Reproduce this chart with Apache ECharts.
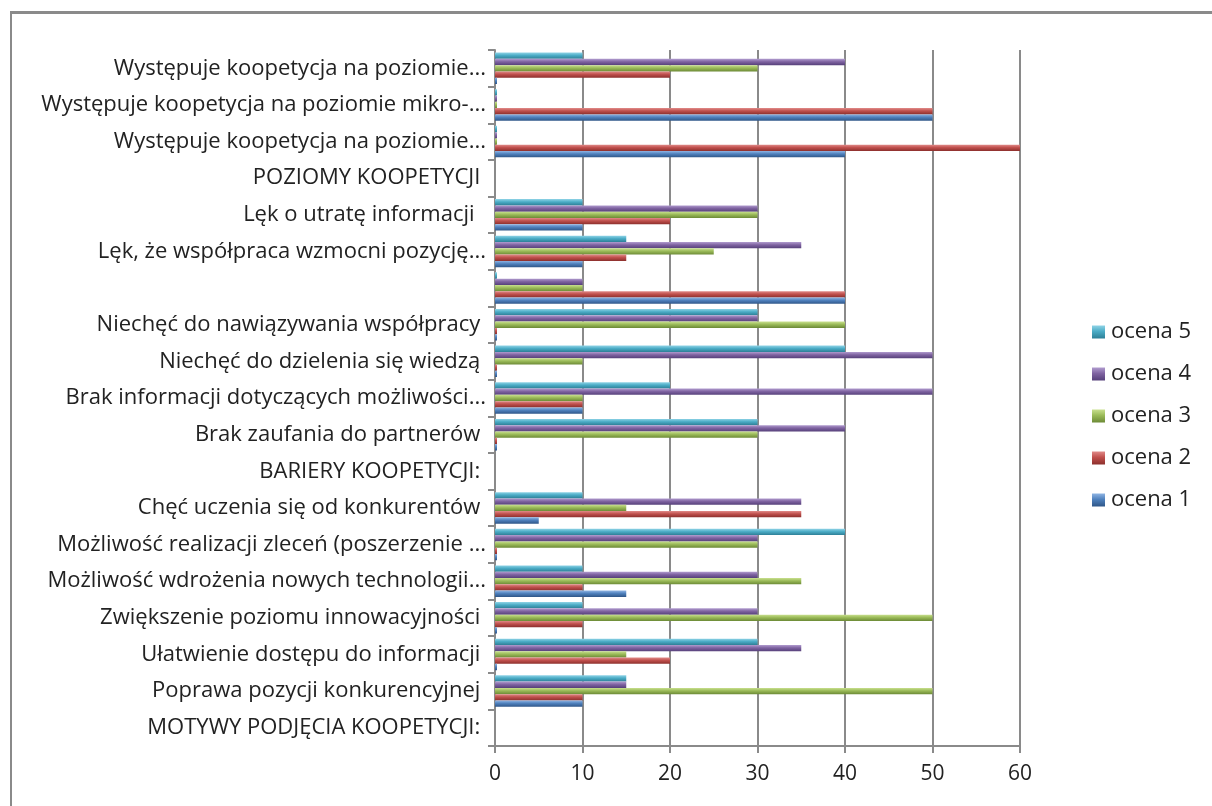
<!DOCTYPE html>
<html>
<head>
<meta charset="utf-8">
<script src="https://cdn.jsdelivr.net/npm/echarts@6/dist/echarts.min.js"></script>
<style>
  html, body { margin: 0; padding: 0; background: #fff; }
  #frame { position: absolute; left: 10px; top: 11px; width: 1220px; height: 820px; border-left: 2px solid #8a8a8a; border-top: 3px solid #8a8a8a; }
  #chart { position: absolute; left: 0; top: 0; width: 1212px; height: 806px; }
</style>
</head>
<body>
<div id="frame"></div>
<div id="chart"></div>
<script>
// kategorie od dołu do góry
var categories = [
  'MOTYWY PODJĘCIA KOOPETYCJI: ',
  'Poprawa pozycji konkurencyjnej ',
  'Ułatwienie dostępu do informacji ',
  'Zwiększenie poziomu innowacyjności ',
  'Możliwość wdrożenia nowych technologii...',
  'Możliwość realizacji zleceń (poszerzenie ...',
  'Chęć uczenia się od konkurentów ',
  'BARIERY KOOPETYCJI: ',
  'Brak zaufania do partnerów ',
  'Brak informacji dotyczących możliwości...',
  'Niechęć do dzielenia się wiedzą ',
  'Niechęć do nawiązywania współpracy ',
  '',
  'Lęk, że współpraca wzmocni pozycję...',
  'Lęk o utratę informacji  ',
  'POZIOMY KOOPETYCJI ',
  'Występuje koopetycja na poziomie...',
  'Występuje koopetycja na poziomie mikro-...',
  'Występuje koopetycja na poziomie...'
];
var seriesNames = ['ocena 1', 'ocena 2', 'ocena 3', 'ocena 4', 'ocena 5'];
var ocena1 = [null, 10, 0, 0, 15, 0, 5, null, 0, 10, 0, 0, 40, 10, 10, null, 40, 50, 0];
var ocena2 = [null, 10, 20, 10, 10, 0, 35, null, 0, 10, 0, 0, 40, 15, 20, null, 60, 50, 20];
var ocena3 = [null, 50, 15, 50, 35, 30, 15, null, 30, 10, 10, 40, 10, 25, 30, null, 0, 0, 30];
var ocena4 = [null, 15, 35, 30, 30, 30, 35, null, 40, 50, 50, 30, 10, 35, 30, null, 0, 0, 40];
var ocena5 = [null, 15, 30, 10, 10, 40, 10, null, 30, 20, 40, 30, 0, 15, 10, null, 0, 0, 10];
var xTicks = [0, 10, 20, 30, 40, 50, 60];

var colors = ['#4F81BD', '#C0504D', '#9BBB59', '#8064A2', '#4BACC6'];
var lights = ['#8fb4e3', '#e08a88', '#c9e08f', '#b19ccf', '#8fd3e6'];
var darks = ['#2f5688', '#8c2f2c', '#6c8a36', '#56407a', '#2d7f96'];
var values = [ocena1, ocena2, ocena3, ocena4, ocena5];

var chart = echarts.init(document.getElementById('chart'));

var series = [];
for (var i = 4; i >= 0; i--) {
  series.push({
    name: seriesNames[i],
    type: 'bar',
    data: values[i],
    barGap: '0%',
    barCategoryGap: '14%',
    barMinHeight: 2,
    itemStyle: {
      color: new echarts.graphic.LinearGradient(0, 0, 0, 1, [
        { offset: 0, color: lights[i] },
        { offset: 0.45, color: colors[i] },
        { offset: 1, color: darks[i] }
      ])
    }
  });
}

var option = {
  animation: false,
  color: colors.slice().reverse(),
  textStyle: { fontFamily: 'Open Sans' },
  grid: { left: 495, right: 192, top: 50, bottom: 60, containLabel: false },
  legend: {
    orient: 'vertical',
    left: 1087,
    top: 316,
    itemWidth: 13,
    itemHeight: 13,
    itemGap: 20,
    icon: 'rect',
    data: ['ocena 5', 'ocena 4', 'ocena 3', 'ocena 2', 'ocena 1'],
    textStyle: { fontFamily: 'Open Sans', fontSize: 22, color: '#222', padding: [0, 0, 0, 1] }
  },
  xAxis: {
    type: 'value',
    min: xTicks[0],
    max: xTicks[xTicks.length - 1],
    interval: 10,
    axisLine: { show: true, lineStyle: { color: '#8a8a8a', width: 2 } },
    axisTick: { show: true, length: 7, lineStyle: { color: '#8a8a8a', width: 2 } },
    axisLabel: { fontFamily: 'Open Sans', fontSize: 21, color: '#222', margin: 18 },
    splitLine: { show: true, lineStyle: { color: '#8a8a8a', width: 2 } }
  },
  yAxis: {
    type: 'category',
    data: categories,
    axisLine: { show: true, lineStyle: { color: '#8a8a8a', width: 2 } },
    axisTick: { show: true, length: 7, lineStyle: { color: '#8a8a8a', width: 2 } },
    axisLabel: { fontFamily: 'Open Sans', fontSize: 22, color: '#222', margin: 9, interval: 0 }
  },
  series: series
};

chart.setOption(option);
window.onresize = chart.resize;
</script>
</body>
</html>
